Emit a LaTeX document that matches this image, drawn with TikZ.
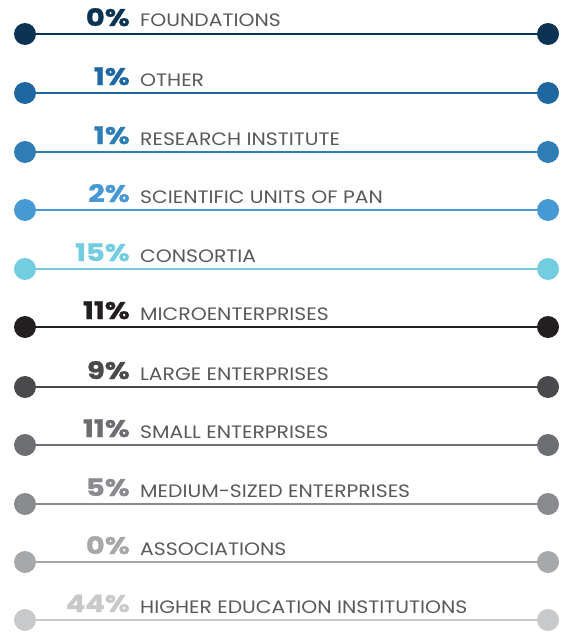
\documentclass[tikz,border=0pt]{standalone}
\usepackage{fontspec}
\setmainfont{Poppins}
\newfontfamily\labfont{Poppins}[FakeStretch=1.13]
\newfontfamily\pctfont{Poppins}[UprightFont=* Bold,FakeStretch=1.2,FakeBold=1.2]
\definecolor{c1}{HTML}{0B3354}
\definecolor{c2}{HTML}{1F67A0}
\definecolor{c3}{HTML}{2F7DB5}
\definecolor{c4}{HTML}{4699D4}
\definecolor{c5}{HTML}{72CDE0}
\definecolor{c6}{HTML}{231F20}
\definecolor{c7}{HTML}{4A4A4C}
\definecolor{c8}{HTML}{6D6E71}
\definecolor{c9}{HTML}{8A8B8E}
\definecolor{c10}{HTML}{A7A8AA}
\definecolor{c11}{HTML}{C8C9CB}
\definecolor{lbl}{HTML}{58595B}
\tikzset{
  dot/.style={circle,inner sep=0pt,minimum size=22pt},
  bar/.style={line width=2.4pt},
  pct/.style={anchor=base east,inner sep=0pt,font=\pctfont\fontsize{24}{24}\selectfont},
  lab/.style={anchor=base west,inner sep=0pt,text=lbl,font=\labfont\fontsize{18}{18}\selectfont},
}
\begin{document}
\begin{tikzpicture}[x=1pt,y=-1pt]
\useasboundingbox (0,0) rectangle (575,634);
\foreach \i/\y/\p/\t in {
 1/34/0\%/FOUNDATIONS,
 2/93/1\%/OTHER,
 3/152/1\%/RESEARCH INSTITUTE,
 4/210/2\%/SCIENTIFIC UNITS OF PAN,
 5/269/15\%/CONSORTIA,
 6/327/11\%/MICROENTERPRISES,
 7/387/9\%/LARGE ENTERPRISES,
 8/445/11\%/SMALL ENTERPRISES,
 9/504/5\%/MEDIUM-SIZED ENTERPRISES,
 10/562/0\%/ASSOCIATIONS,
 11/620/44\%/HIGHER EDUCATION INSTITUTIONS}{
  \node[dot,fill=c\i] (l\i) at (25,\y) {};
  \node[dot,fill=c\i] (r\i) at (548,\y) {};
  \draw[bar,draw=c\i] (l\i) -- (r\i);
  \node[pct,text=c\i] (p\i) at (130,\y-8) {\p};
  \node[lab] (t\i) at (140,\y-7) {\t};
}
\end{tikzpicture}
\end{document}
